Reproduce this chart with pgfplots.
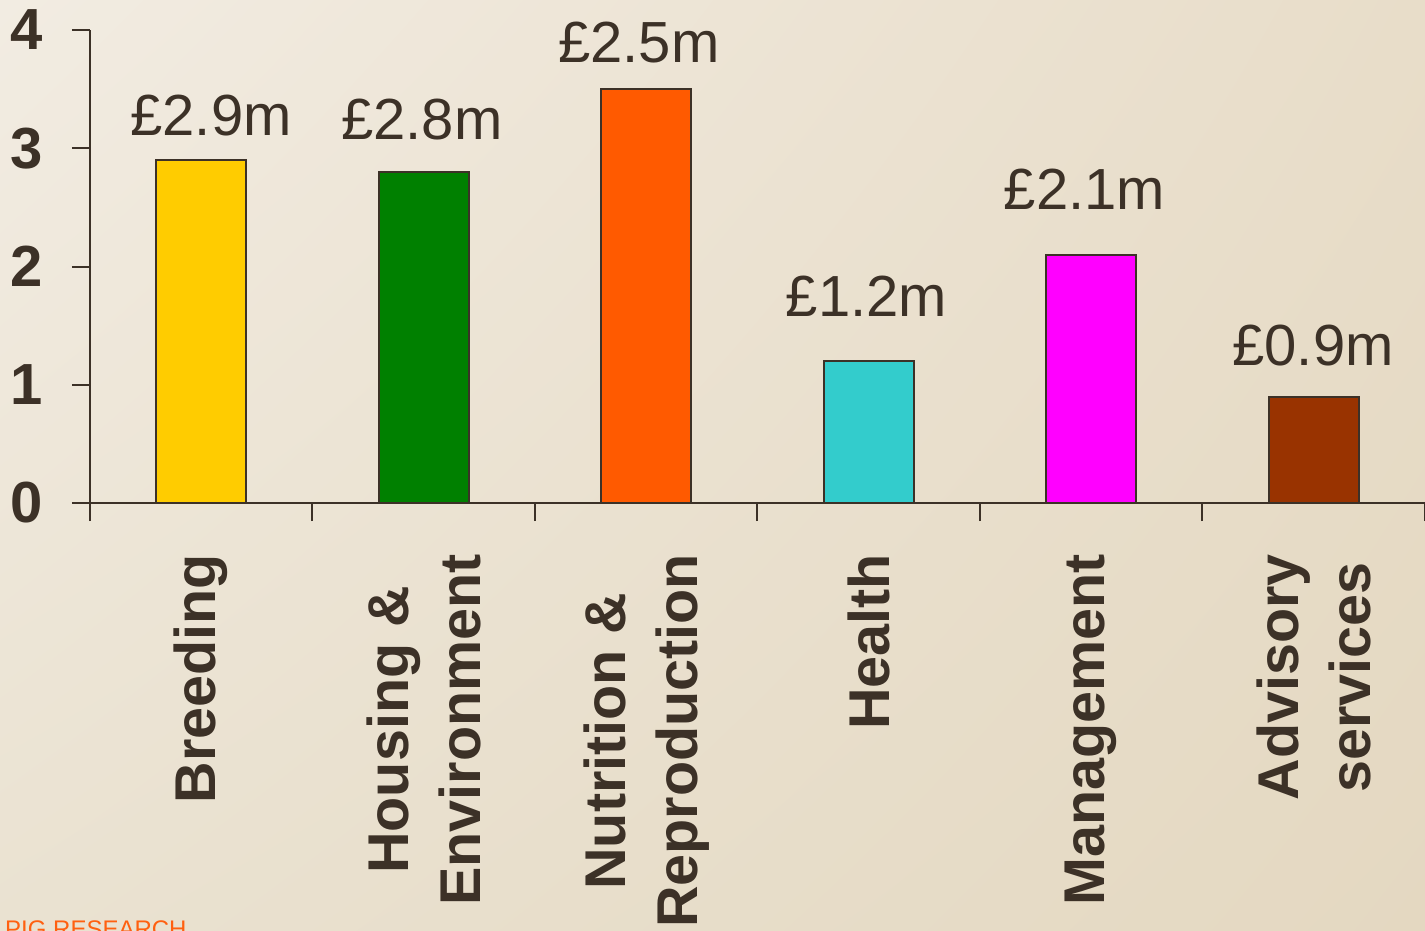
\documentclass[border=0pt]{standalone}
\usepackage{fontspec}
\setmainfont{Liberation Sans}
\usepackage{pgfplots}
\pgfplotsset{compat=1.18}
\usetikzlibrary{shadings}

\definecolor{ink}{HTML}{3C3127}
\definecolor{bgA}{HTML}{F2ECE2}
\definecolor{bgB}{HTML}{E8DDC9}
\definecolor{bgC}{HTML}{EAE2D1}
\definecolor{bgD}{HTML}{E4D8C1}
\definecolor{barYellow}{HTML}{FFCC00}
\definecolor{barGreen}{HTML}{008000}
\definecolor{barOrange}{HTML}{FF5A00}
\definecolor{barCyan}{HTML}{33CCCC}
\definecolor{barMagenta}{HTML}{FF00FF}
\definecolor{barBrown}{HTML}{993300}
\definecolor{logo}{HTML}{FF6010}

\begin{document}
\begin{tikzpicture}
\useasboundingbox (0pt,0pt) rectangle (1425pt,930pt);
\clip (0pt,0pt) rectangle (1425pt,930pt);
\shade[upper left=bgA, upper right=bgB, lower left=bgC, lower right=bgD]
  (0pt,0pt) rectangle (1425pt,930pt);
\node[anchor=base west, inner sep=0pt, text=logo, font=\fontsize{24}{26}\selectfont]
  at (5pt,-7pt) {PIG RESEARCH};

\begin{axis}[
  at={(90pt,427pt)}, anchor=south west,
  scale only axis, width=1335pt, height=473pt,
  xmin=-0.5, xmax=5.5, ymin=0, ymax=4,
  clip=false,
  axis x line*=bottom, axis y line*=left,
  axis line style={ink, line width=2pt},
  every tick/.style={ink, line width=2pt},
  tick align=outside, major tick length=18pt,
  ytick={0,1,2,3,4},
  xtick={-0.5,0.5,1.5,2.5,3.5,4.5,5.5},
  x tick label as interval,
  xticklabels={Breeding, {Housing \&\\Environment}, {Nutrition \&\\Reproduction},
    Health, Management, {Advisory\\services}},
  /pgf/number format/assume math mode=true,
  yticklabel style={font=\fontsize{58}{60}\selectfont\bfseries, text=ink,
    anchor=east, inner sep=0pt, xshift=-29pt},
  xticklabel style={font=\fontsize{57.5}{72}\selectfont\bfseries, text=ink,
    yshift=-33pt, rotate=90, anchor=east, align=center, inner sep=0pt},
]
\addplot[ybar, bar shift=0pt, bar width=90pt, fill=barYellow, draw=ink, line width=2pt] coordinates {(0,2.9)};
\addplot[ybar, bar shift=0pt, bar width=90pt, fill=barGreen, draw=ink, line width=2pt] coordinates {(1,2.8)};
\addplot[ybar, bar shift=0pt, bar width=90pt, fill=barOrange, draw=ink, line width=2pt] coordinates {(2,3.5)};
\addplot[ybar, bar shift=0pt, bar width=90pt, fill=barCyan, draw=ink, line width=2pt] coordinates {(3,1.2)};
\addplot[ybar, bar shift=0pt, bar width=90pt, fill=barMagenta, draw=ink, line width=2pt] coordinates {(4,2.1)};
\addplot[ybar, bar shift=0pt, bar width=90pt, fill=barBrown, draw=ink, line width=2pt] coordinates {(5,0.9)};

\begin{scope}[every node/.style={anchor=base, inner sep=0pt, text=ink,
    font=\fontsize{58}{60}\selectfont}]
\node at (axis cs:0.044,3.112) {£2.9m};
\node at (axis cs:0.992,3.078) {£2.8m};
\node at (axis cs:1.967,3.729) {£2.5m};
\node at (axis cs:2.990,1.581) {£1.2m};
\node at (axis cs:3.970,2.478) {£2.1m};
\node at (axis cs:4.997,1.159) {£0.9m};
\end{scope}
\end{axis}
\end{tikzpicture}
\end{document}
